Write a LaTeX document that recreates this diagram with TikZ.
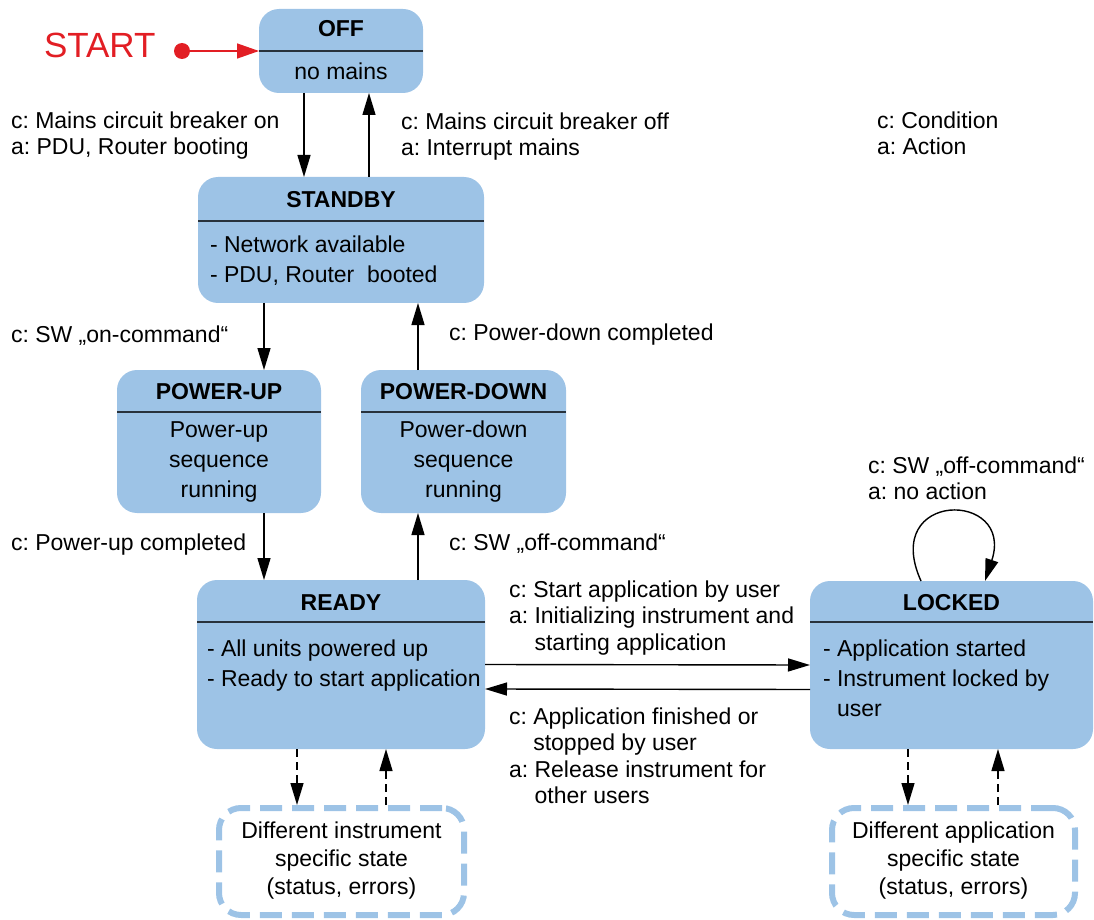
\documentclass[tikz,border=0pt]{standalone}
\usepackage{fontspec}
\setmainfont{Liberation Sans}
\usetikzlibrary{arrows.meta,fit,calc}
\definecolor{stblue}{RGB}{157,195,230}
\definecolor{stred}{RGB}{226,30,36}
\definecolor{divline}{RGB}{40,50,60}
\newcommand\tp{\rule{0pt}{8.6pt}}
\frenchspacing
\begin{document}
\begin{tikzpicture}[x=0.5pt,y=-0.5pt,
  txt/.style={font=\fontsize{11.5pt}{13.2pt}\selectfont, inner sep=0pt, outer sep=0pt},
  lbl/.style={txt, align=left, anchor=north west},
  state/.style={fill=stblue, rounded corners=10pt, inner sep=0pt, outer sep=0pt},
  ttl/.style={txt, font=\fontsize{11.5pt}{13pt}\selectfont\bfseries, anchor=base},
  body/.style={txt, font=\fontsize{11.5pt}{15pt}\selectfont},
  dbody/.style={txt, font=\fontsize{11.5pt}{14.2pt}\selectfont, align=center, anchor=north},
  divider/.style={draw=divline, line width=0.75pt},
  arr/.style={line width=0.7pt, -{Triangle[length=11pt,width=6.5pt]}},
  darr/.style={arr, dash pattern=on 4pt off 2.5pt},
  dbox/.style={draw=stblue, line width=3pt, dash pattern=on 11pt off 5pt, rounded corners=11pt, inner sep=0pt, outer sep=0pt},
]
\useasboundingbox (0,0) rectangle (1094,920);

% state boxes
\node[state, fit={(259,9)(423,93)}] (off) {};
\node[state, fit={(198,177)(484,303)}] (standby) {};
\node[state, fit={(117,370)(321,513)}] (pup) {};
\node[state, fit={(361,370)(566,513)}] (pdn) {};
\node[state, fit={(197,580)(485,749)}] (ready) {};
\node[state, fit={(810,581)(1093,749)}] (locked) {};
\node[dbox, fit={(219,808)(464,915)}] (dyn1) {};
\node[dbox, fit={(832,808)(1075,915)}] (dyn2) {};

% dividers
\draw[divider] ($(off.north west)+(0,42)$) -- ($(off.north east)+(0,42)$);
\draw[divider] ($(standby.north west)+(0,44)$) -- ($(standby.north east)+(0,44)$);
\draw[divider] ($(pup.north west)+(0,42)$) -- ($(pup.north east)+(0,42)$);
\draw[divider] ($(pdn.north west)+(0,42)$) -- ($(pdn.north east)+(0,42)$);
\draw[divider] ($(ready.north west)+(0,42)$) -- ($(ready.north east)+(0,42)$);
\draw[divider] ($(locked.north west)+(0,41)$) -- ($(locked.north east)+(0,41)$);

% box texts
\node[ttl] (offT) at (341,37) {OFF};
\node[txt, anchor=base] (offB) at (341,80) {no mains};
\node[ttl] (sbT) at (341,208) {STANDBY};
\node[body, align=left, anchor=north west] (sbB) at (210,235.8) {\tp- Network available\\- PDU, Router\ \ booted};
\node[ttl] (puT) at (219,399) {POWER-UP};
\node[body, align=center, anchor=north] (puB) at (219,419.8) {\tp Power-up\\sequence\\running};
\node[ttl] (pdT) at (463.5,399) {POWER-DOWN};
\node[body, align=center, anchor=north] (pdB) at (463.5,419.8) {\tp Power-down\\sequence\\running};
\node[ttl] (rdT) at (341,610) {READY};
\node[body, align=left, anchor=north west] (rdB) at (207,638.8) {\tp- All units powered up\\- Ready to start application};
\node[ttl] (lkT) at (951.5,610) {LOCKED};
\node[body, align=left, anchor=north west] (lkB) at (823,638.8) {\tp- Application started\\- Instrument locked by\\\phantom{- }user};
\node[dbody] (d1B) at (341.5,820.8) {\tp Different instrument\\specific state\\(status, errors)};
\node[dbody] (d2B) at (953.5,820.8) {\tp Different application\\specific state\\(status, errors)};

% start
\node[txt, font=\fontsize{17.5pt}{20pt}\selectfont, text=stred, anchor=base west] (start) at (44,58) {START};
\node[circle, fill=stred, inner sep=0pt, minimum size=8pt] (dot) at (182,51) {};
\draw[line width=0.7pt, draw=stred, -{Triangle[length=11pt,width=7.5pt]}, fill=stred] (dot) -- (off.west);

% connectors
\draw[arr] ($(off.south)+(-37,0)$) -- ($(standby.north)+(-37,0)$);
\draw[arr] ($(standby.north)+(28,0)$) -- ($(off.south)+(28,0)$);
\draw[arr] ($(standby.south)+(-77,0)$) -- ($(pup.north)+(45,0)$);
\draw[arr] ($(pdn.north)+(-45.5,0)$) -- ($(standby.south)+(77,0)$);
\draw[arr] ($(pup.south)+(45,0)$) -- ($(ready.north)+(-77,0)$);
\draw[arr] ($(ready.north)+(77,0)$) -- ($(pdn.south)+(-45.5,0)$);
\draw[arr] (ready.east) -- (locked.west);
\draw[arr] ($(locked.west)+(0,24.5)$) -- ($(ready.east)+(0,24.5)$);
\draw[arr] ($(locked.north)+(-30.5,0)$) .. controls ($(locked.north)+(-71.5,-91)$) and ($(locked.north)+(63.5,-91)$) .. ($(locked.north)+(33.5,0)$);
\draw[darr] ($(ready.south)+(-44,0)$) -- ($(dyn1.north)+(-44.5,-3)$);
\draw[darr] ($(dyn1.north)+(44.5,-3)$) -- ($(ready.south)+(45,0)$);
\draw[darr] ($(locked.south)+(-43.5,0)$) -- ($(dyn2.north)+(-45.5,-3)$);
\draw[darr] ($(dyn2.north)+(44.5,-3)$) -- ($(locked.south)+(46.5,0)$);

% labels
\node[lbl] (lbOn) at (11,111) {\tp c: Mains circuit breaker on\\a: PDU, Router booting};
\node[lbl] (lbOff) at (401,112) {\tp c: Mains circuit breaker off\\a: Interrupt mains};
\node[lbl] (legend) at (877,111) {\tp c: Condition\\a: Action};
\node[lbl] (lbSwOn) at (11,325) {\tp c: SW „on-command“};
\node[lbl] (lbPdc) at (449,323) {\tp c: Power-down completed};
\node[lbl] (lbPuc) at (11,533) {\tp c: Power-up completed};
\node[lbl] (lbSwOff) at (449,533) {\tp c: SW „off-command“};
\node[lbl] (lbStart) at (509,580) {\tp c: Start application by user\\a: Initializing instrument and\\\phantom{a: }starting application};
\node[lbl] (lbFin) at (509,707) {\tp c: Application finished or\\\phantom{c: }stopped by user\\a: Release instrument for\\\phantom{a: }other users};
\node[lbl] (lbLoop) at (868,456) {\tp c: SW „off-command“\\a: no action};
\end{tikzpicture}
\end{document}
